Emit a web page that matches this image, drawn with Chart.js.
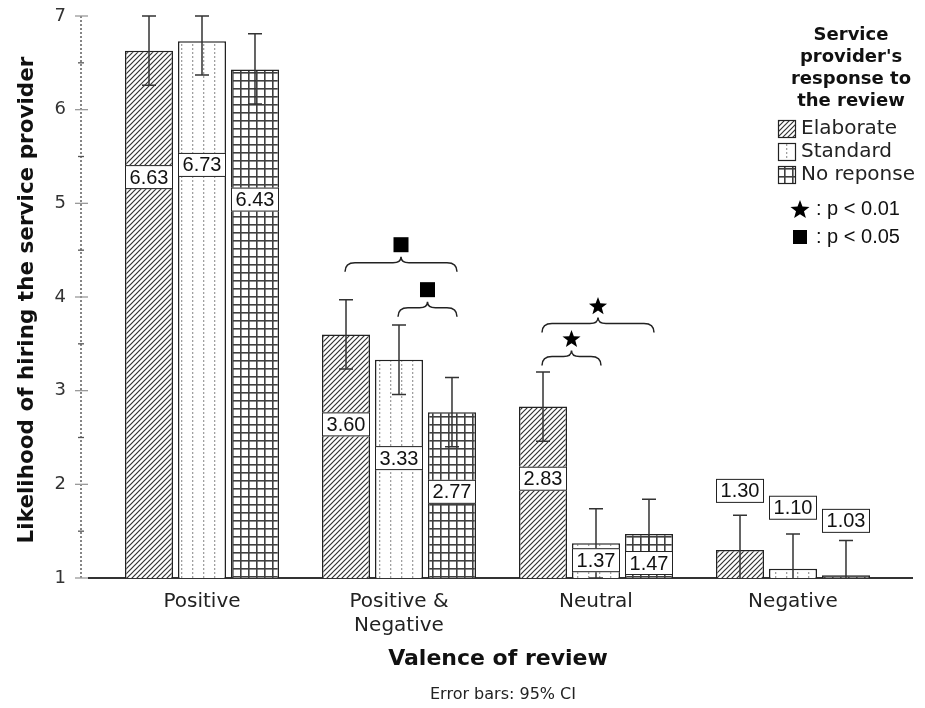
<!DOCTYPE html>
<html>
<head>
<meta charset="utf-8">
<script src="https://cdn.jsdelivr.net/npm/chart.js@4"></script>
<style>
  body { margin: 0; background: #fff; }
  #wrap { width: 925px; height: 708px; }
</style>
</head>
<body>
<div id="wrap"><canvas id="chart" width="925" height="708"></canvas></div>
<script>
// Datos del gráfico
const categories = ['Positive', ['Positive &', 'Negative'], 'Neutral', 'Negative'];
const seriesNames = ['Elaborate', 'Standard', 'No reponse'];

const elaborateMeans = [6.63, 3.60, 2.83, 1.30];
const standardMeans = [6.73, 3.33, 1.37, 1.10];
const noResponseMeans = [6.43, 2.77, 1.47, 1.03];

// Intervalos de confianza 95%
const elaborateLow = [6.26, 3.23, 2.46, 0.93];
const elaborateHigh = [7.00, 3.97, 3.20, 1.67];
const standardLow = [6.37, 2.96, 1.00, 0.73];
const standardHigh = [7.00, 3.70, 1.74, 1.47];
const noResponseLow = [6.06, 2.40, 1.10, 0.66];
const noResponseHigh = [6.81, 3.14, 1.84, 1.40];

const yTickValues = [1, 2, 3, 4, 5, 6, 7];

const legendTitle = ['Service', "provider's", 'response to', 'the review'];
const significance = [
    { mark: 'star', text: ': p < 0.01' },
    { mark: 'square', text: ': p < 0.05' }
];

// Comparaciones marcadas con llaves
const brackets = [
    { cat: 1, from: 0, to: 2, mark: 'square' },
    { cat: 1, from: 1, to: 2, mark: 'square' },
    { cat: 2, from: 0, to: 2, mark: 'star' },
    { cat: 2, from: 0, to: 1, mark: 'star' }
];
// Posición vertical de las llaves y etiquetas (en unidades del eje)
const bracketAt = [4.27, 3.79, 3.62, 3.27];
const labelAt = [
    [5.28, 2.64, 2.06, 1.93],
    [5.41, 2.28, 1.19, 1.75],
    [5.04, 1.92, 1.16, 1.61]
];

const canvas = document.getElementById('chart');
const mainCtx = canvas.getContext('2d');

// Tramas en blanco y negro
function makePattern(kind) {
    const tile = document.createElement('canvas');
    const g = tile.getContext('2d');
    if (kind === 'hatch') {
        tile.width = 5; tile.height = 5;
        g.fillStyle = '#fff'; g.fillRect(0, 0, 5, 5);
        g.strokeStyle = '#333'; g.lineWidth = 1.2;
        g.beginPath();
        g.moveTo(-1, 6); g.lineTo(6, -1);
        g.moveTo(-1, 1); g.lineTo(1, -1);
        g.moveTo(4, 6); g.lineTo(6, 4);
        g.stroke();
    } else if (kind === 'dots') {
        tile.width = 11; tile.height = 4;
        g.fillStyle = '#fff'; g.fillRect(0, 0, 11, 4);
        g.fillStyle = '#a0a0a0';
        g.fillRect(5, 0, 1.3, 2);
    } else {
        tile.width = 8; tile.height = 8;
        g.fillStyle = '#fff'; g.fillRect(0, 0, 8, 8);
        g.fillStyle = '#404040';
        g.fillRect(0, 0, 8, 1.6);
        g.fillRect(0, 0, 1.6, 8);
    }
    return mainCtx.createPattern(tile, 'repeat');
}

const patterns = [makePattern('hatch'), makePattern('dots'), makePattern('grid')];
const allMeans = [elaborateMeans, standardMeans, noResponseMeans];
const allLow = [elaborateLow, standardLow, noResponseLow];
const allHigh = [elaborateHigh, standardHigh, noResponseHigh];

function drawStar(ctx, cx, cy, r) {
    ctx.beginPath();
    for (let i = 0; i < 10; i++) {
        const rad = i % 2 === 0 ? r : r * 0.42;
        const a = -Math.PI / 2 + i * Math.PI / 5;
        const px = cx + rad * Math.cos(a);
        const py = cy + rad * Math.sin(a);
        if (i === 0) ctx.moveTo(px, py); else ctx.lineTo(px, py);
    }
    ctx.closePath();
    ctx.fill();
}

// size = lado del cuadrado o radio exterior de la estrella
function drawMark(ctx, kind, cx, cy, size) {
    ctx.fillStyle = '#000';
    if (kind === 'star') drawStar(ctx, cx, cy + 1, size);
    else ctx.fillRect(cx - size / 2, cy - size / 2, size, size);
}

function drawBrace(ctx, x1, x2, yb) {
    const xm = (x1 + x2) / 2;
    const h = 9;
    ctx.beginPath();
    ctx.moveTo(x1, yb);
    ctx.quadraticCurveTo(x1, yb - h, x1 + 10, yb - h);
    ctx.lineTo(xm - 8, yb - h);
    ctx.quadraticCurveTo(xm, yb - h, xm, yb - h - 6);
    ctx.quadraticCurveTo(xm, yb - h, xm + 8, yb - h);
    ctx.lineTo(x2 - 10, yb - h);
    ctx.quadraticCurveTo(x2, yb - h, x2, yb);
    ctx.stroke();
}

const extrasPlugin = {
    id: 'spssExtras',
    beforeDatasetsDraw(chart) {
        const { ctx, chartArea, scales: { y } } = chart;
        ctx.save();
        // eje Y punteado
        ctx.strokeStyle = '#444';
        ctx.lineWidth = 1.3;
        ctx.setLineDash([2, 2]);
        ctx.beginPath();
        ctx.moveTo(81, y.getPixelForValue(7));
        ctx.lineTo(81, y.getPixelForValue(1));
        ctx.stroke();
        ctx.setLineDash([]);
        // marcas principales, secundarias y etiquetas
        ctx.font = '18px "DejaVu Sans", sans-serif';
        ctx.textAlign = 'right';
        ctx.textBaseline = 'middle';
        yTickValues.forEach(v => {
            const py = y.getPixelForValue(v);
            ctx.strokeStyle = '#9a9a9a';
            ctx.lineWidth = 1.3;
            ctx.beginPath(); ctx.moveTo(75, py); ctx.lineTo(88, py); ctx.stroke();
            if (v < 7) {
                const pm = y.getPixelForValue(v + 0.5);
                ctx.strokeStyle = '#555';
                ctx.beginPath(); ctx.moveTo(78, pm); ctx.lineTo(84, pm); ctx.stroke();
            }
            ctx.fillStyle = '#333';
            ctx.fillText(String(v), 66, py);
        });
        // eje X
        ctx.strokeStyle = '#333';
        ctx.lineWidth = 2;
        ctx.beginPath();
        ctx.moveTo(88, chartArea.bottom);
        ctx.lineTo(913, chartArea.bottom);
        ctx.stroke();
        ctx.restore();
    },
    afterDatasetsDraw(chart) {
        const { ctx, chartArea, scales: { y } } = chart;
        ctx.save();

        // barras de error
        ctx.save();
        ctx.beginPath();
        ctx.rect(0, chartArea.top - 4, 925, chartArea.bottom - chartArea.top + 4);
        ctx.clip();
        ctx.strokeStyle = '#333';
        ctx.lineWidth = 1.5;
        allMeans.forEach((means, d) => {
            chart.getDatasetMeta(d).data.forEach((bar, i) => {
                const yl = y.getPixelForValue(allLow[d][i]);
                const yh = y.getPixelForValue(allHigh[d][i]);
                ctx.beginPath();
                ctx.moveTo(bar.x, yl); ctx.lineTo(bar.x, yh);
                ctx.moveTo(bar.x - 7, yh); ctx.lineTo(bar.x + 7, yh);
                ctx.moveTo(bar.x - 7, yl); ctx.lineTo(bar.x + 7, yl);
                ctx.stroke();
            });
        });
        ctx.restore();

        // etiquetas de valores
        ctx.font = '20px "Liberation Sans", Arial, sans-serif';
        ctx.textAlign = 'center';
        ctx.textBaseline = 'middle';
        allMeans.forEach((means, d) => {
            chart.getDatasetMeta(d).data.forEach((bar, i) => {
                const cy = y.getPixelForValue(labelAt[d][i]);
                const w = 48, h = 24;
                ctx.fillStyle = '#fff';
                ctx.fillRect(bar.x - w / 2, cy - h / 2, w, h);
                ctx.strokeStyle = '#222';
                ctx.lineWidth = 1;
                ctx.strokeRect(bar.x - w / 2 + 0.5, cy - h / 2 + 0.5, w - 1, h - 1);
                ctx.fillStyle = '#111';
                ctx.fillText(means[i].toFixed(2), bar.x, cy + 1);
            });
        });

        // llaves de significación
        ctx.strokeStyle = '#222';
        ctx.lineWidth = 1.5;
        brackets.forEach((b, k) => {
            const x1 = chart.getDatasetMeta(b.from).data[b.cat].x - 1;
            const x2 = chart.getDatasetMeta(b.to).data[b.cat].x + 5;
            const yb = y.getPixelForValue(bracketAt[k]);
            drawBrace(ctx, x1, x2, yb);
            drawMark(ctx, b.mark, (x1 + x2) / 2, yb - 27, b.mark === 'star' ? 9.5 : 15);
        });
        ctx.restore();
    },
    afterDraw(chart) {
        const { ctx } = chart;
        ctx.save();
        ctx.fillStyle = '#111';
        ctx.textAlign = 'center';
        ctx.textBaseline = 'middle';

        // título eje Y
        ctx.save();
        ctx.translate(27, 300);
        ctx.rotate(-Math.PI / 2);
        ctx.font = 'bold 21.5px "DejaVu Sans", sans-serif';
        ctx.fillText('Likelihood of hiring the service provider', 0, 0);
        ctx.restore();

        // título eje X y nota
        ctx.font = 'bold 22px "DejaVu Sans", sans-serif';
        ctx.fillText('Valence of review', 498, 659);
        ctx.font = '16px "DejaVu Sans", sans-serif';
        ctx.fillStyle = '#222';
        ctx.fillText('Error bars: 95% CI', 503, 695);

        // leyenda
        ctx.fillStyle = '#111';
        ctx.font = 'bold 18px "DejaVu Sans", sans-serif';
        legendTitle.forEach((line, i) => ctx.fillText(line, 851, 35 + i * 22));

        ctx.textAlign = 'left';
        ctx.font = '20px "DejaVu Sans", sans-serif';
        seriesNames.forEach((name, i) => {
            const top = 120 + i * 23;
            ctx.fillStyle = patterns[i];
            ctx.fillRect(778, top, 18, 18);
            ctx.strokeStyle = '#222';
            ctx.lineWidth = 1.2;
            ctx.strokeRect(778.5, top + 0.5, 17, 17);
            ctx.fillStyle = '#222';
            ctx.fillText(name, 801, top + 9);
        });

        ctx.font = '20px "Liberation Sans", Arial, sans-serif';
        significance.forEach((s, i) => {
            const cy = 209 + i * 28;
            drawMark(ctx, s.mark, 800, cy, s.mark === 'star' ? 10 : 14);
            ctx.fillStyle = '#111';
            ctx.fillText(s.text, 816, cy);
        });
        ctx.restore();
    }
};

const datasets = seriesNames.map((name, d) => ({
    label: name,
    data: allMeans[d],
    backgroundColor: patterns[d],
    borderColor: '#222',
    borderWidth: 1.5,
    borderSkipped: false,
    categoryPercentage: 0.807,
    barPercentage: 0.906
}));

new Chart(mainCtx, {
    type: 'bar',
    data: { labels: categories, datasets: datasets },
    options: {
        responsive: false,
        animation: false,
        layout: { padding: { top: 16, right: 33.5, bottom: 0, left: 0 } },
        plugins: {
            legend: { display: false },
            tooltip: { enabled: false }
        },
        scales: {
            x: {
                grid: { display: false, drawTicks: false },
                border: { display: false },
                ticks: {
                    color: '#222',
                    font: { family: '"DejaVu Sans", sans-serif', size: 20 },
                    padding: 12,
                    maxRotation: 0,
                    autoSkip: false
                },
                afterFit: (scale) => { scale.height = 130; }
            },
            y: {
                min: 1,
                max: 7,
                grid: { display: false, drawTicks: false },
                border: { display: false },
                ticks: { display: false, stepSize: 1 },
                afterFit: (scale) => { scale.width = 103.5; }
            }
        }
    },
    plugins: [extrasPlugin]
});
</script>
</body>
</html>
